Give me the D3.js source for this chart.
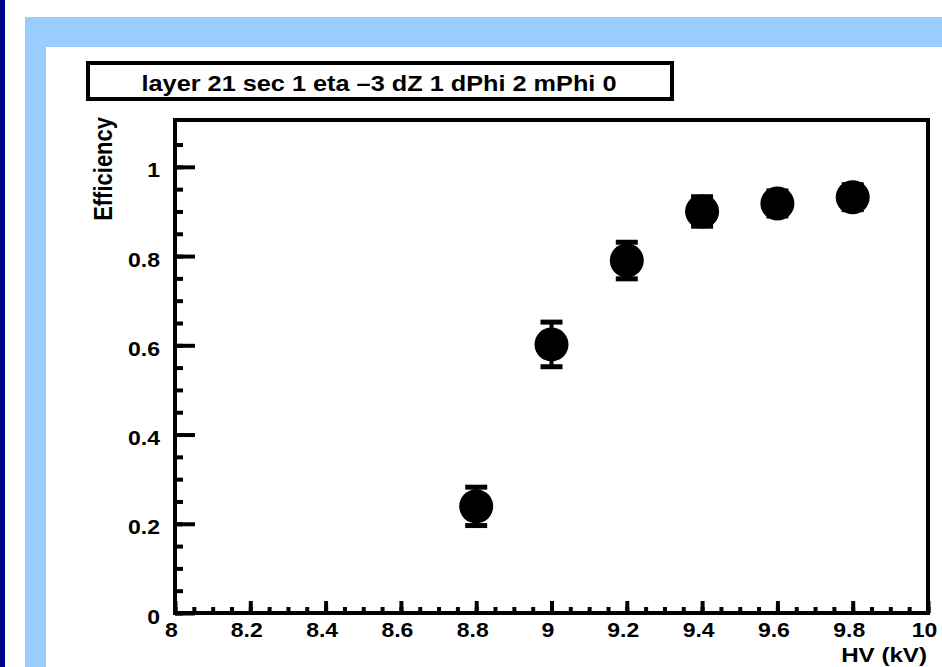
<!DOCTYPE html>
<html>
<head>
<meta charset="utf-8">
<script src="https://cdn.jsdelivr.net/npm/d3@7"></script>
<style>
  html, body { margin: 0; padding: 0; background: #ffffff; }
  svg { display: block; }
  text { font-family: "Liberation Sans", Arial, Helvetica, sans-serif; font-weight: bold; fill: #000; }
</style>
</head>
<body>
<svg id="chart" width="942" height="667"></svg>
<script>
// HV scan: efficiency vs high voltage
const title = "layer 21 sec 1 eta \u20133 dZ 1 dPhi 2 mPhi 0";
const xLabel = "HV (kV)";
const yLabel = "Efficiency";

const hv  = [8.8, 9.0, 9.2, 9.4, 9.6, 9.8];
const eff = [0.239, 0.602, 0.790, 0.900, 0.918, 0.932];
const err = [0.043, 0.050, 0.041, 0.033, 0.028, 0.028];

const xTickLabels = [8, 8.2, 8.4, 8.6, 8.8, 9, 9.2, 9.4, 9.6, 9.8, 10];
const yTickLabels = [0, 0.2, 0.4, 0.6, 0.8, 1];

const svg = d3.select("#chart");
const W = 942, H = 667;

// page background: navy stripe, light blue frame, white canvas
svg.append("rect").attr("x", 0).attr("y", 0).attr("width", W).attr("height", H).attr("fill", "#ffffff");
svg.append("rect").attr("x", 0).attr("y", 0).attr("width", 5).attr("height", H).attr("fill", "#00008b");
svg.append("rect").attr("x", 25).attr("y", 17).attr("width", W - 25).attr("height", H - 17).attr("fill", "#99ccff");
svg.append("rect").attr("x", 46).attr("y", 47).attr("width", W - 46).attr("height", H - 47).attr("fill", "#ffffff");

const SX = 1.15; // horizontal stretch of the glyphs

// plot area
const pLeft = 175, pRight = 928, pTop = 120, pBottom = 613;
const x = d3.scaleLinear().domain([8, 10]).range([pLeft, pRight]);
const y = d3.scaleLinear().domain([0, 1.105]).range([pBottom, pTop]);

// title box
svg.append("rect").attr("x", 88).attr("y", 63).attr("width", 584).attr("height", 36)
  .attr("fill", "#fff").attr("stroke", "#000").attr("stroke-width", 4);
svg.append("text").attr("text-anchor", "middle")
  .attr("transform", `translate(379,91) scale(${SX},1)`)
  .style("font-size", "22px").text(title);

// minor and major ticks pointing inward
const minorX = d3.range(0, 41).map(i => 8 + i * 0.05);
const minorY = d3.range(0, 22).map(i => i * 0.05);

function styleTicks(g) {
  g.select(".domain").remove();
  g.selectAll("line").attr("stroke", "#000").attr("stroke-width", 4);
}

svg.append("g").attr("transform", `translate(0,${pBottom})`)
  .call(d3.axisTop(x).tickValues(minorX).tickSize(6).tickFormat(""))
  .call(styleTicks);
svg.append("g").attr("transform", `translate(0,${pBottom})`)
  .call(d3.axisTop(x).tickValues(xTickLabels).tickSize(12).tickFormat(""))
  .call(styleTicks);
svg.append("g").attr("transform", `translate(${pLeft},0)`)
  .call(d3.axisRight(y).tickValues(minorY).tickSize(8).tickFormat(""))
  .call(styleTicks);
svg.append("g").attr("transform", `translate(${pLeft},0)`)
  .call(d3.axisRight(y).tickValues(yTickLabels).tickSize(20).tickFormat(""))
  .call(styleTicks);

// tick labels
const fmt = d3.format("~g");
const gxl = svg.append("g").attr("transform", `translate(0,${pBottom})`)
  .call(d3.axisBottom(x).tickValues(xTickLabels).tickSize(0).tickPadding(0).tickFormat(fmt));
gxl.select(".domain").remove();
gxl.selectAll("text")
  .attr("y", null).attr("dy", null)
  .attr("transform", `translate(-4,24) scale(${SX},1)`)
  .style("font-size", "20px").attr("fill", "#000");

const gyl = svg.append("g").attr("transform", `translate(${pLeft},0)`)
  .call(d3.axisLeft(y).tickValues(yTickLabels).tickSize(0).tickPadding(0).tickFormat(fmt));
gyl.select(".domain").remove();
gyl.selectAll("text")
  .attr("x", null).attr("dy", null)
  .attr("transform", `translate(-15,10) scale(${SX},1)`)
  .style("font-size", "20px").attr("fill", "#000");

// frame
svg.append("rect").attr("x", pLeft).attr("y", pTop).attr("width", pRight - pLeft).attr("height", pBottom - pTop)
  .attr("fill", "none").attr("stroke", "#000").attr("stroke-width", 4);

// axis titles
svg.append("text").attr("text-anchor", "end")
  .attr("transform", `translate(927,662) scale(${SX},1)`)
  .style("font-size", "21px").text(xLabel);
svg.append("text").attr("text-anchor", "end")
  .attr("transform", `translate(112,${pTop - 3}) rotate(-90) scale(1,1.2)`)
  .style("font-size", "22px").text(yLabel);

// error bars and markers
const pts = hv.map((v, i) => ({ hv: v, eff: eff[i], err: err[i] }));
const gp = svg.append("g");
gp.selectAll("line.bar").data(pts).join("line").attr("class", "bar")
  .attr("x1", d => x(d.hv)).attr("x2", d => x(d.hv))
  .attr("y1", d => y(d.eff + d.err)).attr("y2", d => y(d.eff - d.err))
  .attr("stroke", "#000").attr("stroke-width", 4);
gp.selectAll("line.capTop").data(pts).join("line").attr("class", "capTop")
  .attr("x1", d => x(d.hv) - 11).attr("x2", d => x(d.hv) + 11)
  .attr("y1", d => y(d.eff + d.err)).attr("y2", d => y(d.eff + d.err))
  .attr("stroke", "#000").attr("stroke-width", 5);
gp.selectAll("line.capBot").data(pts).join("line").attr("class", "capBot")
  .attr("x1", d => x(d.hv) - 11).attr("x2", d => x(d.hv) + 11)
  .attr("y1", d => y(d.eff - d.err)).attr("y2", d => y(d.eff - d.err))
  .attr("stroke", "#000").attr("stroke-width", 5);
gp.selectAll("circle").data(pts).join("circle")
  .attr("cx", d => x(d.hv)).attr("cy", d => y(d.eff)).attr("r", 17)
  .attr("fill", "#000");
</script>
</body>
</html>
